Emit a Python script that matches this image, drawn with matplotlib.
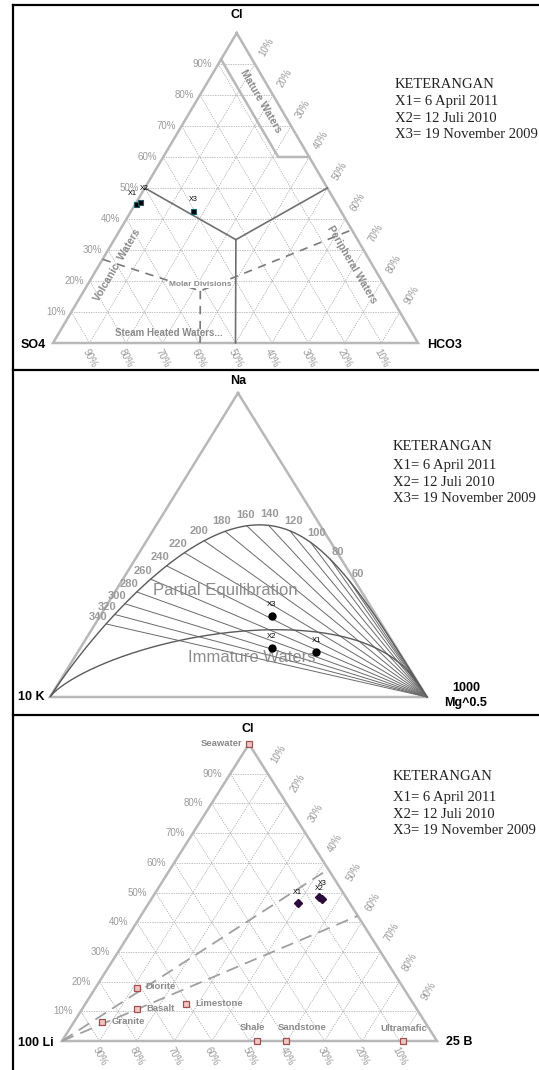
import matplotlib
matplotlib.use("Agg")
import matplotlib.pyplot as plt
import numpy as np

plt.rcParams["font.family"] = ["Liberation Sans", "DejaVu Sans"]

# ---------------- data ----------------
legend_lines = ["KETERANGAN", "X1= 6 April 2011", "X2= 12 Juli 2010", "X3= 19 November 2009"]
sample_names = ["X1", "X2", "X3"]
pct_ticks = [10, 20, 30, 40, 50, 60, 70, 80, 90]

# Cl - SO4 - HCO3 (fractions)
anion_cl = [0.450, 0.455, 0.425]
anion_so4 = [0.550, 0.535, 0.405]
anion_hco3 = [0.000, 0.010, 0.170]

# Na - K - Mg (fractions)
cation_na = [0.148, 0.161, 0.266]
cation_k = [0.220, 0.331, 0.278]
cation_mg = [0.632, 0.508, 0.456]
temps = [60, 80, 100, 120, 140, 160, 180, 200, 220, 240, 260, 280, 300, 320, 340]

# Cl - Li - B (fractions)
clb_cl = [0.465, 0.478, 0.485]
clb_li = [0.138, 0.068, 0.072]
clb_b = [0.397, 0.454, 0.443]
rock_names = ["Seawater", "Diorite", "Basalt", "Granite", "Limestone", "Shale", "Sandstone", "Ultramafic"]
rock_cl = [1.0, 0.178, 0.108, 0.064, 0.125, 0.0, 0.0, 0.0]
rock_b = [0.0, 0.111, 0.146, 0.075, 0.269, 0.520, 0.597, 0.909]
rock_li = [1 - c - b for c, b in zip(rock_cl, rock_b)]

# ---------------- layout (pixel space) ----------------
tri1 = [(236.7, 33), (53, 343), (418, 343)]      # Cl, SO4, HCO3
tri2 = [(238, 393), (50, 697), (427, 697)]       # Na, K, Mg
tri3 = [(249, 744), (62, 1041), (437, 1041)]     # Cl, Li, B

EDGE = "#b8b8b8"
GRID = "#a8a8a8"
TICK = "#9a9a9a"
LAB = "#8a8a8a"


def tern(tri, top, left, right):
    top = np.asarray(top, float)
    left = np.asarray(left, float)
    right = np.asarray(right, float)
    x = top * tri[0][0] + left * tri[1][0] + right * tri[2][0]
    y = top * tri[0][1] + left * tri[1][1] + right * tri[2][1]
    return x, y


def tline(ax, tri, pts, **kw):
    t, l, r = zip(*pts)
    x, y = tern(tri, t, l, r)
    ax.plot(x, y, **kw)


def draw_frame(ax, tri, grid=True, right_off=(12, -17), left_gap=7):
    if grid:
        for p in pct_ticks:
            f = p / 100
            for a, b in [((f, 1 - f, 0), (f, 0, 1 - f)),
                         ((1 - f, f, 0), (0, f, 1 - f)),
                         ((1 - f, 0, f), (0, 1 - f, f))]:
                tline(ax, tri, [a, b], color=GRID, lw=0.5, ls=(0, (2, 1.5)), zorder=1)
            x, y = tern(tri, f, 1 - f, 0)
            ax.text(x - left_gap, y, f"{p}%", ha="right", va="center", fontsize=7, color=TICK)
            x, y = tern(tri, 1 - f, 0, f)
            ax.text(x + right_off[0], y + right_off[1], f"{p}%", ha="center", va="center",
                    fontsize=7, color=TICK, rotation=60)
            x, y = tern(tri, 0, f, 1 - f)
            ax.text(x, y + 15, f"{p}%", ha="center", va="center", fontsize=7,
                    color=TICK, rotation=-62)
    tline(ax, tri, [(1, 0, 0), (0, 1, 0), (0, 0, 1), (1, 0, 0)],
          color=EDGE, lw=1.8, zorder=2, solid_joinstyle="miter")


def legend(ax, x, y0, gap):
    ax.text(x, y0, legend_lines[0], fontsize=10.5, family="Liberation Serif",
            va="center", color="#222222")
    for i, s in enumerate(legend_lines[1:]):
        ax.text(x, y0 + gap + 16 * i, s, fontsize=10.5, family="Liberation Serif",
                va="center", color="#222222")


def sample_labels(ax, x, y, offsets, size=5.5):
    for name, xi, yi, off in zip(sample_names, x, y, offsets):
        ax.annotate(name, (xi, yi), xytext=off, textcoords="offset points",
                    ha="center", va="center", fontsize=size)


fig = plt.figure(figsize=(5.39, 10.70), dpi=100)
ax = fig.add_axes([0, 0, 1, 1])
ax.set_xlim(0, 539)
ax.set_ylim(1070, 0)
ax.axis("off")

# panel borders
for yb in [5, 370, 715]:
    ax.plot([13, 539], [yb, yb], color="black", lw=1.6)
ax.plot([13, 13], [5, 1070], color="black", lw=1.6)

# ================= panel 1: Cl - SO4 - HCO3 =================
draw_frame(ax, tri1, right_off=(12, -17), left_gap=6)
# mature waters
tline(ax, tri1, [(0.915, 0.085, 0), (0.6, 0.085, 0.315), (0.6, 0, 0.4)], color=EDGE, lw=1.8, zorder=2)
# main divisions
c3 = (1 / 3, 1 / 3, 1 / 3)
for end in [(0.5, 0.5, 0), (0.5, 0, 0.5), (0, 0.5, 0.5)]:
    tline(ax, tri1, [c3, end], color="#707070", lw=1.2, zorder=3)
# molar divisions
mid = (0.168, 0.513, 0.319)
dash = dict(color="#7a7a7a", lw=1.2, ls=(0, (5, 4)), zorder=3)
tline(ax, tri1, [(0.27, 0.73, 0), mid, (0.365, 0, 0.635)], **dash)
tline(ax, tri1, [mid, (0, 0.597, 0.403)], **dash)

ax.text(237, 15, "Cl", fontsize=9, fontweight="bold", ha="center", va="center")
ax.text(33, 345, "SO4", fontsize=9, fontweight="bold", ha="center", va="center")
ax.text(445, 345, "HCO3", fontsize=9, fontweight="bold", ha="center", va="center")

ax.text(261, 101, "Mature Waters", fontsize=7.5, fontweight="bold", color=LAB,
        rotation=-59.5, ha="center", va="center")
ax.text(117, 265, "Volcanic  Waters", fontsize=7.5, fontweight="bold", color=LAB,
        rotation=59.5, ha="center", va="center")
ax.text(352, 265, "Peripheral Waters", fontsize=7.5, fontweight="bold", color=LAB,
        rotation=-59.5, ha="center", va="center")
ax.text(200, 284, "Molar Divisions", fontsize=6, fontweight="bold", color=LAB,
        ha="center", va="center", zorder=4,
        bbox=dict(facecolor="white", edgecolor="none", pad=0.5))
ax.text(169, 333, "Steam Heated Waters...", fontsize=7, fontweight="bold", color=LAB,
        ha="center", va="center")

x, y = tern(tri1, anion_cl, anion_so4, anion_hco3)
ax.plot(x, y, "s", ms=3.6, mfc="black", mec="#1d5a68", mew=0.8, ls="none", zorder=5)
sample_labels(ax, x, y, [(-2.5, 7.5), (3, 9.5), (0, 8.5)], size=5.2)

legend(ax, 395, 85, 17)

# ================= panel 2: Na - K - Mg =================
draw_frame(ax, tri2, grid=False)


def nakmg(na, k, mg):
    a = np.asarray(na, float) / 1000
    b = np.asarray(k, float) / 100
    c = np.sqrt(mg)
    s = a + b + c
    return a / s, b / s, c / s


ratio = np.logspace(-1.7, 4.8, 500)          # Na/K
k_r = 1000 / ratio
log_km_full = 14.0 - 4410 * (np.log10(ratio) + 1.75) / 1390
log_km_imm = (2.0 - np.log10(ratio)) / 0.315
for lk in [log_km_full, log_km_imm]:
    mg_r = k_r ** 2 / 10 ** lk
    x, y = tern(tri2, *nakmg(1000, k_r, mg_r))
    ax.plot(x, y, color="#5a5a5a", lw=1.0, zorder=3)


def equil_xy(t):
    tk = t + 273.15
    r = 10 ** (1390 / tk - 1.75)
    kk = 1000 / r
    mm = kk ** 2 / 10 ** (14.0 - 4410 / tk)
    return tern(tri2, *nakmg(1000, kk, mm))


mg_vertex = tri2[2]
for t in temps:
    px, py = equil_xy(t)
    ax.plot([px, mg_vertex[0]], [py, mg_vertex[1]], color="#6a6a6a", lw=0.7, zorder=2)
    x1, y1 = equil_xy(t - 1)
    x2, y2 = equil_xy(t + 1)
    tx, ty = x2 - x1, y2 - y1
    n = np.hypot(tx, ty)
    nx, ny = -ty / n, tx / n
    if nx * (px - 238) + ny * (py - 700) < 0:
        nx, ny = -nx, -ny
    ax.text(px + 11 * nx, py + 11 * ny, str(t), fontsize=8, fontweight="bold",
            color=TICK, ha="center", va="center")

ax.text(225, 591, "Partial Equilibration", fontsize=12, color="#8c8c8c",
        ha="center", va="center")
ax.text(252, 657, "Immature Waters", fontsize=12, color="#8c8c8c",
        ha="center", va="center")

ax.text(238, 381, "Na", fontsize=9, fontweight="bold", ha="center", va="center")
ax.text(44, 697, "10 K", fontsize=9, fontweight="bold", ha="right", va="center")
ax.text(466, 688, "1000", fontsize=9, fontweight="bold", ha="center", va="center")
ax.text(466, 703, "Mg^0.5", fontsize=9, fontweight="bold", ha="center", va="center")

x, y = tern(tri2, cation_na, cation_k, cation_mg)
ax.plot(x, y, "o", ms=5, color="black", ls="none", zorder=5)
sample_labels(ax, x, y, [(0, 8.5)] * 3)

legend(ax, 393, 446, 20)

# ================= panel 3: Cl - Li - B =================
draw_frame(ax, tri3, right_off=(11, -20), left_gap=8)
for ratio_cb in [1.37, 0.728]:
    cb = ratio_cb / (1 + ratio_cb)
    tline(ax, tri3, [(0, 1, 0), (cb, 0, 1 - cb)], color="#a0a0a0", lw=1.3,
          ls=(0, (7, 4)), zorder=3)

ax.text(248, 729, "Cl", fontsize=9, fontweight="bold", ha="center", va="center")
ax.text(36, 1043, "100 Li", fontsize=9, fontweight="bold", ha="center", va="center")
ax.text(459, 1042, "25 B", fontsize=9, fontweight="bold", ha="center", va="center")

rock_label_pos = {
    "Seawater": ((-5, 0), "right"),
    "Diorite": ((6, 1), "left"),
    "Basalt": ((7, 0), "left"),
    "Granite": ((7, 0), "left"),
    "Limestone": ((6.5, 0), "left"),
    "Shale": ((-3.5, 10), "center"),
    "Sandstone": ((11.5, 9.5), "center"),
    "Ultramafic": ((0.5, 9), "center"),
}
x, y = tern(tri3, rock_cl, rock_li, rock_b)
ax.plot(x, y, "s", ms=4.8, mfc="#ecc8c6", mec="#a0504c", mew=0.9, ls="none", zorder=5)
for name, xi, yi in zip(rock_names, x, y):
    off, ha = rock_label_pos[name]
    ax.annotate(name, (xi, yi), xytext=off, textcoords="offset points",
                ha=ha, va="center", fontsize=6.8, fontweight="bold", color=LAB)

x, y = tern(tri3, clb_cl, clb_li, clb_b)
ax.plot(x, y, "D", ms=3.6, color="#2b0b3b", ls="none", zorder=5)
sample_labels(ax, x, y, [(0, 7.5), (-1.5, 7.5), (2.5, 10)], size=5.2)

legend(ax, 393, 777, 21)

fig.savefig("out.png", dpi=100)
